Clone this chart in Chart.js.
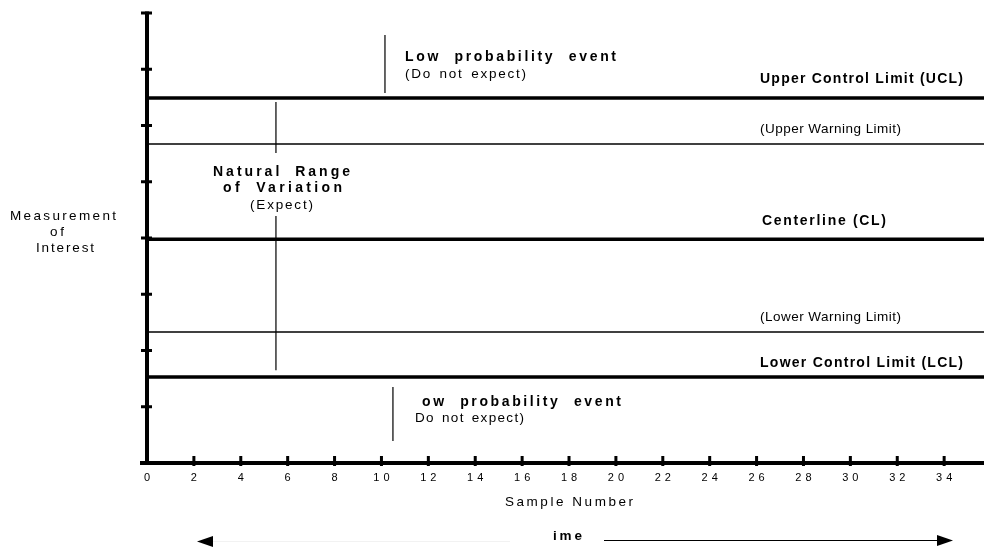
<!DOCTYPE html>
<html>
<head>
<meta charset="utf-8">
<script src="https://cdn.jsdelivr.net/npm/chart.js@4.4.1/dist/chart.umd.min.js"></script>
<style>
  html, body { margin: 0; padding: 0; background: #fff; }
  #wrap { width: 984px; height: 548px; }
</style>
</head>
<body>
<div id="wrap"><canvas id="spcChart" width="984" height="548"></canvas></div>
<script>
// axis ticks
const xTickValues = [0, 2, 4, 6, 8, 10, 12, 14, 16, 18, 20, 22, 24, 26, 28, 30, 32, 34];
const yTickValues = [0, 1, 2, 3, 4, 5, 6, 7, 8];

// control limits (top to bottom)
const limitKinds = ['control', 'warning', 'center', 'warning', 'control'];
const limitLabels = ['Upper Control Limit (UCL)', '(Upper Warning Limit)', 'Centerline (CL)', '(Lower Warning Limit)', 'Lower Control Limit (LCL)'];
const limitValues = [6.49, 5.67, 3.98, 2.33, 1.53];

// thin vertical pointer lines
const markerX = [10.15, 5.5, 5.5, 10.49];
const markerTop = [7.61, 6.42, 4.39, 1.35];
const markerBottom = [6.58, 5.51, 1.65, 0.39];

const X_MAX = 35.7;
const Y_MAX = 8;
const FONT = "'Liberation Sans', Arial, sans-serif";
const TICK_SPACING = 4;

// text drawn spread out to a given width, like the original pdf
function spacedText(ctx, text, x, y, width, font, align, wordGap) {
    wordGap = wordGap || 0;
    ctx.font = font;
    ctx.letterSpacing = '0px';
    ctx.wordSpacing = '0px';
    const w = ctx.measureText(text).width;
    const spaces = text.split(' ').length - 1;
    const ls = text.length > 1 ? (width - w - spaces * wordGap) / (text.length - 1) : 0;
    ctx.letterSpacing = ls + 'px';
    ctx.wordSpacing = wordGap + 'px';
    let left = x;
    if (align === 'center') left = x - width / 2;
    if (align === 'right') left = x - width;
    ctx.textAlign = 'left';
    ctx.textBaseline = 'middle';
    ctx.fillText(text, left, y);
}

const tickSpacingPlugin = {
    id: 'tickSpacing',
    beforeDraw(chart) {
        const c = chart.ctx;
        c.save();
        c.letterSpacing = TICK_SPACING + 'px';
        c.translate(TICK_SPACING / 2, 0);
    },
    beforeDatasetsDraw(chart) {
        chart.ctx.restore();
    }
};

const overlayPlugin = {
    id: 'overlay',
    afterDraw(chart) {
        const ctx = chart.ctx;
        const xs = chart.scales.x, ys = chart.scales.y;
        const x0 = xs.getPixelForValue(0);
        const y0 = ys.getPixelForValue(0);
        const yTop = ys.getPixelForValue(Y_MAX);
        ctx.save();
        ctx.fillStyle = '#000';
        ctx.strokeStyle = '#000';

        // axes + tick marks
        ctx.fillRect(x0 - 2, yTop - 1.5, 4, y0 - yTop + 3.5);
        ctx.fillRect(x0 - 7, y0 - 2, chart.width - x0 + 7, 4);
        yTickValues.forEach(v => {
            const y = ys.getPixelForValue(v);
            ctx.fillRect(x0 - 6, y - 1.5, 11, 3);
        });
        xTickValues.forEach(v => {
            if (v === 0) return;
            const x = xs.getPixelForValue(v);
            ctx.fillRect(x - 1.5, y0 - 7, 3, 10);
        });

        const bold = 'bold 14px ' + FONT;
        const reg = '13.5px ' + FONT;

        // limit labels
        spacedText(ctx, limitLabels[0], 760, 79.5, 203, bold);
        spacedText(ctx, limitLabels[1], 760, 129.5, 141, reg);
        spacedText(ctx, limitLabels[2], 762, 221.5, 124, bold);
        spacedText(ctx, limitLabels[3], 760, 317, 141, reg);
        spacedText(ctx, limitLabels[4], 760, 363, 203, bold);

        // annotations
        spacedText(ctx, 'Low probability event', 405, 57.5, 211, bold, 'left', 7);
        spacedText(ctx, '(Do not expect)', 405, 74.5, 121, reg, 'left', 2);
        spacedText(ctx, 'Natural Range', 281.5, 172.5, 137, bold, 'center', 6);
        spacedText(ctx, 'of Variation', 282.5, 188, 119, bold, 'center', 6);
        spacedText(ctx, '(Expect)', 281.5, 205, 63, reg, 'center');
        spacedText(ctx, 'ow probability event', 422, 402.5, 199, bold, 'left', 7);
        spacedText(ctx, 'Do not expect)', 415, 418, 109, reg, 'left', 2);

        // axis titles
        spacedText(ctx, 'Measurement', 63, 216, 106, reg, 'center');
        spacedText(ctx, 'of', 57, 232, 14, reg, 'center');
        spacedText(ctx, 'Interest', 65, 248, 58, reg, 'center');
        spacedText(ctx, 'Sample Number', 569, 502, 128, reg, 'center');
        spacedText(ctx, 'ime', 553, 536, 29, 'bold 13.5px ' + FONT, 'left');

        // time arrows
        ctx.lineWidth = 1;
        ctx.beginPath();
        ctx.moveTo(604, 540.5);
        ctx.lineTo(940, 540.5);
        ctx.stroke();
        ctx.beginPath();
        ctx.moveTo(937, 535);
        ctx.lineTo(953, 540.5);
        ctx.lineTo(937, 546);
        ctx.closePath();
        ctx.fill();

        ctx.strokeStyle = '#f2f2f2';
        ctx.beginPath();
        ctx.moveTo(213, 541.5);
        ctx.lineTo(510, 541.5);
        ctx.stroke();
        ctx.beginPath();
        ctx.moveTo(197, 541.5);
        ctx.lineTo(213, 536);
        ctx.lineTo(213, 547);
        ctx.closePath();
        ctx.fill();
        ctx.restore();
    }
};

const datasets = [];
limitValues.forEach((v, i) => {
    const thin = limitKinds[i] === 'warning';
    datasets.push({
        label: limitLabels[i],
        data: [{ x: 0, y: v }, { x: X_MAX, y: v }],
        showLine: true,
        borderColor: '#000',
        borderWidth: thin ? 1.4 : 3.5,
        pointRadius: 0
    });
});
markerX.forEach((x, i) => {
    datasets.push({
        label: 'marker ' + (i + 1),
        data: [{ x: x, y: markerTop[i] }, { x: x, y: markerBottom[i] }],
        showLine: true,
        borderColor: '#000',
        borderWidth: 1.2,
        pointRadius: 0
    });
});

const ctx = document.getElementById('spcChart').getContext('2d');
new Chart(ctx, {
    type: 'scatter',
    data: { datasets: datasets },
    options: {
        responsive: false,
        animation: false,
        layout: { padding: { left: 147, top: 13, right: 0, bottom: 0 } },
        plugins: { legend: { display: false }, tooltip: { enabled: false } },
        scales: {
            x: {
                type: 'linear',
                min: 0,
                max: X_MAX,
                afterBuildTicks: scale => { scale.ticks = xTickValues.map(v => ({ value: v })); },
                afterFit: scale => { scale.height = 85; },
                grid: { display: false, drawTicks: false },
                border: { display: false },
                ticks: { color: '#000', padding: 8, font: { family: FONT, size: 11 } }
            },
            y: {
                type: 'linear',
                display: false,
                min: 0,
                max: Y_MAX
            }
        }
    },
    plugins: [tickSpacingPlugin, overlayPlugin]
});
</script>
</body>
</html>
